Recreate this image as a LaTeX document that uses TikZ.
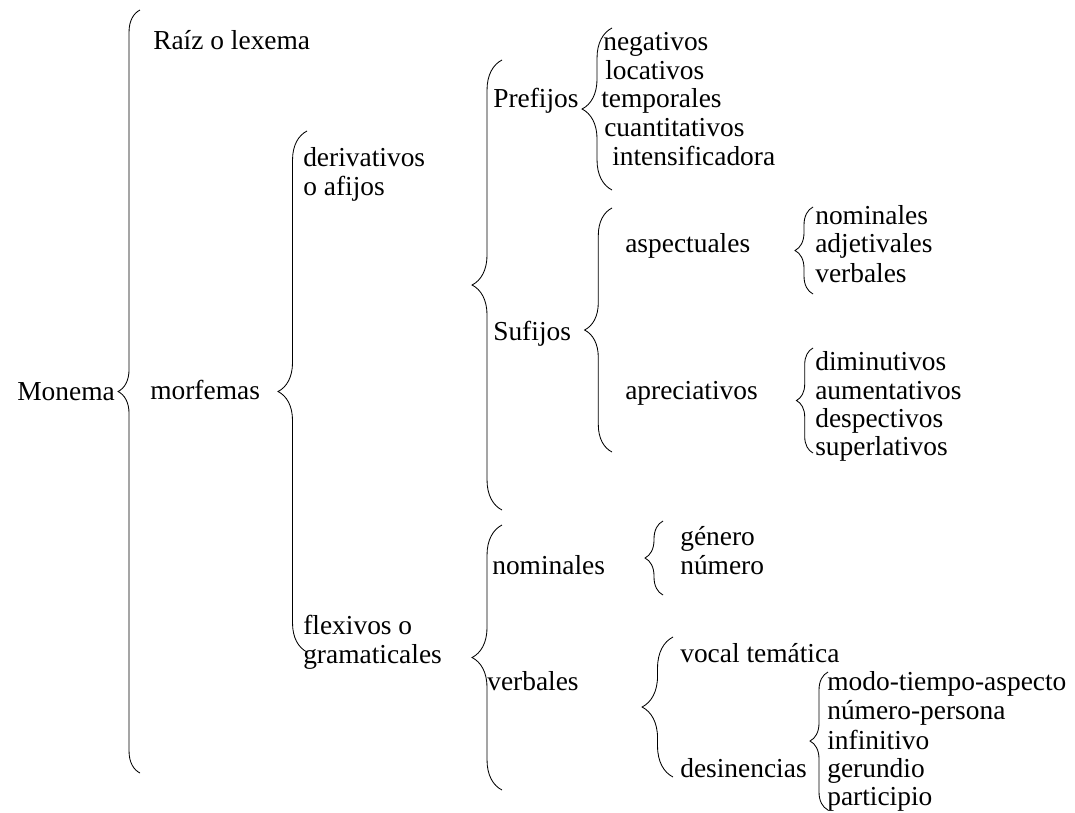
\documentclass[tikz,border=0pt]{standalone}
\usepackage{fontspec}
\setmainfont{Liberation Serif}
\newfontfamily\tnr{Liberation Serif}
\usetikzlibrary{decorations.pathreplacing}
\begin{document}
\begin{tikzpicture}[x=0.025cm,y=-0.025cm,
    txt/.style={anchor=base west,inner sep=0pt,
      font={\tnr\fontsize{19.5}{20.3}\selectfont}},
    dos/.style={anchor=west,inner sep=0pt,align=left,
      font={\tnr\fontsize{19.5}{20.6}\selectfont}},
    llave/.style={decorate,decoration={brace,amplitude=#1},line width=0.6pt}]
\useasboundingbox (0,0) rectangle (1075,812);

% monema
\node[txt] (monema) at (17,400) {Monema};
\draw[llave=15.6pt] (140,773) -- (140,10);
\node[txt] (raiz) at (153,49) {Raíz o lexema};
\node[txt] (morfemas) at (150,399) {morfemas};

% morfemas
\draw[llave=20.6pt] (307,652) -- (307,131);
\node[dos] (deriv) at (303,174) {derivativos\\o afijos};
\node[dos] (flex) at (303,642) {flexivos o\\gramaticales};

% derivativos
\draw[llave=21.3pt] (502,510) -- (502,60);
\node[txt] (prefijos) at (493,107) {Prefijos};
\node[txt] (sufijos) at (493,340) {Sufijos};

% prefijos
\draw[llave=21.3pt] (612,190) -- (612,28);
\node[txt] (neg) at (603,50) {negativos};
\node[txt] (loc) at (605,79) {locativos};
\node[txt] (temp) at (601,107) {temporales};
\node[txt] (cuant) at (604,136) {cuantitativos};
\node[txt] (intens) at (612,165) {intensificadora};

% sufijos
\draw[llave=19.5pt] (612,452) -- (612,208);
\node[txt] (aspect) at (625,252) {aspectuales};
\node[txt] (aprec) at (625,399) {apreciativos};

\draw[llave=12.8pt] (813,294) -- (813,207);
\node[txt] (snom) at (815,224) {nominales};
\node[txt] (sadj) at (815,252) {adjetivales};
\node[txt] (sverb) at (815,282) {verbales};

\draw[llave=11.8pt] (813,453) -- (813,348);
\node[txt] (dimin) at (815,370) {diminutivos};
\node[txt] (aument) at (815,399) {aumentativos};
\node[txt] (despect) at (815,427) {despectivos};
\node[txt] (superl) at (815,455) {superlativos};

% flexivos
\draw[llave=21.3pt] (502,790) -- (502,525);
\node[txt] (fnom) at (492,574) {nominales};
\node[txt] (fverb) at (487,690) {verbales};

\draw[llave=12.8pt] (663,595) -- (663,521);
\node[txt] (genero) at (680,545) {género};
\node[txt] (numero) at (680,574) {número};

\draw[llave=22pt] (673,777) -- (673,637);
\node[txt] (vocal) at (680,662) {vocal temática};
\node[txt] (desin) at (680,777) {desinencias};

\draw[llave=12.8pt] (828,810) -- (828,672);
\node[txt] (mta) at (827,690) {modo-tiempo-aspecto};
\node[txt] (nump) at (827,719) {número-persona};
\node[txt] (infin) at (827,749) {infinitivo};
\node[txt] (gerun) at (827,777) {gerundio};
\node[txt] (partic) at (827,805) {participio};
\end{tikzpicture}
\end{document}
